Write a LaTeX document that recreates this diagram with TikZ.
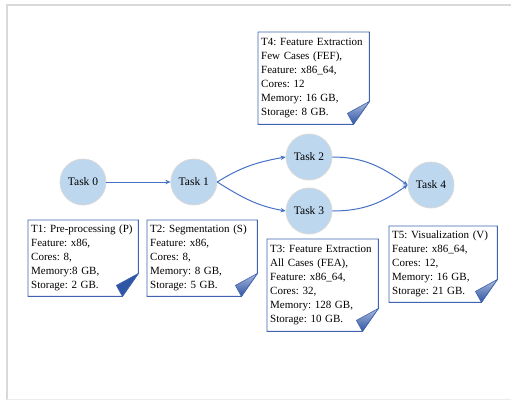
\documentclass[tikz,border=0pt]{standalone}
\usepackage{fontspec}
\setmainfont{Liberation Serif}
\usetikzlibrary{arrows.meta, positioning}
\frenchspacing
\definecolor{taskfill}{HTML}{BDD7EE}
\definecolor{edgeblue}{HTML}{4472C4}
\definecolor{foldblue}{HTML}{2F55A4}
\definecolor{noteline}{HTML}{3F63B0}
\tikzstyle{task} = [circle, minimum size=46pt, inner sep=0pt, fill=taskfill, draw=gray!30, line width=0.8pt, font={\fontsize{11.5pt}{13}\selectfont}]
\tikzstyle{note} = [anchor=north west, inner sep=3pt, align=left, font={\fontsize{11pt}{14}\selectfont}]
\tikzstyle{arrow} = [draw=edgeblue, line width=1pt, -{Stealth[length=5pt,width=4.5pt]}]
\tikzstyle{notedraw} = [draw=noteline, line width=0.9pt]
% outline with folded corner, #1 = node, #2 = fold fill
\newcommand{\dogear}[2]{
  \draw[notedraw] (#1.north west) -- (#1.north east) -- ([yshift=23pt]#1.south east)
    -- ([xshift=-16pt]#1.south east) -- (#1.south west) -- cycle;
  \path[#2, draw=noteline, line width=0.6pt] ([yshift=23pt]#1.south east) -- ([xshift=-16pt]#1.south east)
    -- ([xshift=-22pt,yshift=11pt]#1.south east) -- cycle;
}

\begin{document}
\begin{tikzpicture}[x=1pt, y=1pt]
    \useasboundingbox (0,0) rectangle (511,400);
    % frame
    \draw [gray!30, line width=1.2pt] (7,0) -- (7,395) -- (511,395);
    \draw [gray!15, line width=0.8pt] (7,1) -- (511,1);

    \node (t0) [task] at (83,218) {Task 0};
    \node (t1) [task, right=64pt of t0] {Task 1};
    \node (t2) [task] at (309,243) {Task 2};
    \node (t3) [task] at (309,189) {Task 3};
    \node (t4) [task] at (431,215) {Task 4};

    \draw [arrow] (t0) -- (t1);
    \draw [arrow] (t1.east) to[out=32, in=190] (t2.west);
    \draw [arrow] (t1.east) to[out=-32, in=170] (t3.west);
    \draw [arrow] (t2.east) to[out=0, in=145] (t4.west);
    \draw [arrow] (t3.east) to[out=0, in=215] (t4.west);

    \node (n1) [note, text width=104pt, minimum height=76pt] at (28,180)
      {T1: Pre-processing (P)\\Feature: x86,\\Cores: 8,\\Memory:8 GB,\\Storage: 2 GB.};
    \node (n2) [note, text width=104pt, minimum height=76pt] at (147,180)
      {T2: Segmentation (S)\\Feature: x86,\\Cores: 8,\\Memory: 8 GB,\\Storage: 5 GB.};
    \node (n4) [note, text width=105pt, minimum height=92pt] at (258,368)
      {T4: Feature Extraction\\Few Cases (FEF),\\Feature: x86\_64,\\Cores: 12\\Memory: 16 GB,\\Storage: 8 GB.};
    \node (n3) [note, text width=105pt, minimum height=92pt] at (267,161)
      {T3: Feature Extraction\\All Cases (FEA),\\Feature: x86\_64,\\Cores: 32,\\Memory: 128 GB,\\Storage: 10 GB.};
    \node (n5) [note, text width=102pt, minimum height=76pt] at (389,174)
      {T5: Visualization (V)\\Feature: x86\_64,\\Cores: 12,\\Memory: 16 GB,\\Storage: 21 GB.};

    \dogear{n1}{fill=foldblue}
    \dogear{n2}{top color=foldblue!40, bottom color=foldblue}
    \dogear{n4}{top color=foldblue!40, bottom color=foldblue}
    \dogear{n3}{top color=foldblue!40, bottom color=foldblue}
    \dogear{n5}{top color=foldblue!40, bottom color=foldblue}
\end{tikzpicture}
\end{document}
